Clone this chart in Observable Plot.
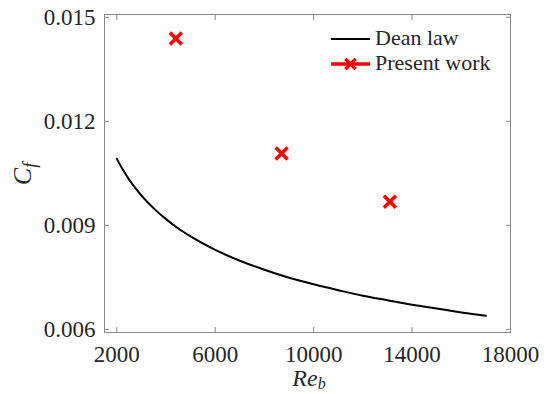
<!DOCTYPE html>
<html><head><meta charset="utf-8">
<script src="https://cdn.jsdelivr.net/npm/d3@7"></script>
<script src="https://cdn.jsdelivr.net/npm/@observablehq/plot@0.6"></script>
<style>
body{margin:0;background:#fff}
#wrap{position:relative;width:548px;height:394px}
</style></head><body><div id="wrap"></div>
<script>
// Dean law curve
const deanRe = [2000, 2250, 2500, 2750, 3000, 3500, 4000, 4500, 5000, 6000, 7000, 8000, 9000, 10000, 11000, 12000, 13000, 14000, 15000, 16000, 17000];
const deanCf = [0.01092, 0.01060, 0.01032, 0.01008, 0.00986, 0.00949, 0.00918, 0.00891, 0.00868, 0.00829, 0.00798, 0.00772, 0.00749, 0.00730, 0.00713, 0.00697, 0.00684, 0.00671, 0.00660, 0.00649, 0.00639];
// Present work points
const presentRe = [4400, 8700, 13100];
const presentCf = [0.01439, 0.01107, 0.00968];
const xTicks = [2000, 6000, 10000, 14000, 18000];
const yTicks = [0.006, 0.009, 0.012, 0.015];
const seriesNames = ["Dean law", "Present work"];

const dean = deanRe.map((x, i) => ({Re: x, Cf: deanCf[i]}));
const present = presentRe.map((x, i) => ({Re: x, Cf: presentCf[i]}));

const font = "'Liberation Serif', serif";
const frameColor = "#8a8a8a";
const textColor = "#262626";
const red = "#ff0000";

const plot = Plot.plot({
  width: 548, height: 394,
  marginLeft: 104, marginRight: 38, marginTop: 14, marginBottom: 62,
  style: {fontSize: "23px", color: textColor, background: "#fff", overflow: "visible"},
  x: {domain: [1500, 18000]},
  y: {domain: [0.00591, 0.01508]},
  marks: [
    Plot.axisX({ticks: xTicks, tickSize: 0, tickPadding: 13, tickFormat: d => String(d), label: null, fill: textColor, fontSize: 23}),
    Plot.axisX({ticks: xTicks, tickSize: -5, fill: "none", stroke: frameColor, label: null}),
    Plot.axisX({anchor: "top", ticks: xTicks, tickSize: -5, fill: "none", stroke: frameColor, label: null}),
    Plot.axisY({ticks: yTicks, tickSize: 0, tickPadding: 9, tickFormat: d => d.toFixed(3), label: null, fill: textColor, fontSize: 23}),
    Plot.axisY({ticks: yTicks, tickSize: -5, fill: "none", stroke: frameColor, label: null}),
    Plot.axisY({anchor: "right", ticks: yTicks, tickSize: -5, fill: "none", stroke: frameColor, label: null}),
    Plot.frame({stroke: frameColor, strokeWidth: 1}),
    Plot.line(dean, {x: "Re", y: "Cf", stroke: "black", strokeWidth: 2, curve: "monotone-x"}),
    Plot.dot(present, {x: "Re", y: "Cf", symbol: "times", r: 5.5, stroke: red, strokeWidth: 3.5})
  ]
});
document.getElementById("wrap").appendChild(plot);

const svg = d3.select(plot);
// axis titles
const xl = svg.append("text").attr("x", 309).attr("y", 386).attr("text-anchor", "middle")
  .attr("font-size", 24).attr("font-style", "italic").attr("fill", textColor);
xl.append("tspan").text("Re");
xl.append("tspan").attr("font-size", 16).attr("dy", 3).text("b");

const yl = svg.append("text").attr("transform", "translate(31,174) rotate(-90)").attr("text-anchor", "middle")
  .attr("font-size", 26).attr("font-style", "italic").attr("fill", textColor);
yl.append("tspan").text("C");
yl.append("tspan").attr("font-size", 18).attr("dy", 5).text("f");

// legend
const lg = svg.append("g").attr("font-size", 22).attr("fill", textColor).attr("text-anchor", "start");
const rows = [
  {name: seriesNames[0], color: "black", marker: false, y: 39},
  {name: seriesNames[1], color: red, marker: true, y: 64}
];
rows.forEach(r => {
  lg.append("line").attr("x1", 331).attr("x2", 370).attr("y1", r.y).attr("y2", r.y)
    .attr("stroke", r.color).attr("stroke-width", r.marker ? 3.5 : 2);
  if (r.marker) {
    lg.append("path").attr("d", d3.symbol(d3.symbolTimes, 70)())
      .attr("transform", `translate(350.5,${r.y})`).attr("stroke", red).attr("stroke-width", 3.5).attr("fill", "none");
  }
  lg.append("text").attr("x", 375).attr("y", r.y + 6).attr("text-anchor", "start").text(r.name);
});
svg.attr("font-family", font);
svg.selectAll("g, text, tspan").attr("font-family", font).style("font-family", font);
</script>
</body></html>
